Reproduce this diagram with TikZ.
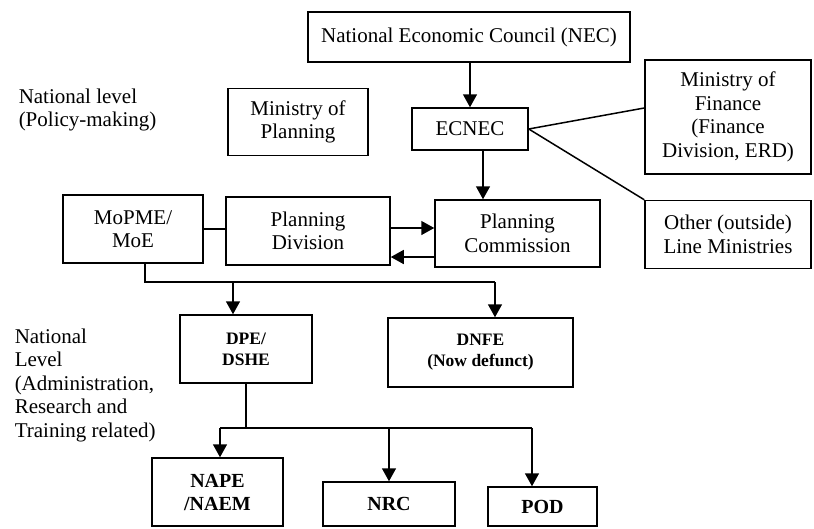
\documentclass[tikz,border=0pt]{standalone}
\usepackage{fontspec}
\setmainfont{Liberation Serif}
\usetikzlibrary{arrows.meta}
\usetikzlibrary{positioning}

\begin{document}
\begin{tikzpicture}[x=1pt,y=-1pt,line width=1.5pt,
  box/.style={draw,align=center,inner sep=2pt,font=\fontsize{21}{23.5}\selectfont},
  boldbox/.style={box,font=\fontsize{20}{23}\selectfont\bfseries},
  smallbox/.style={box,font=\fontsize{17.5}{21}\selectfont\bfseries},
  levelnote/.style={align=left,anchor=north west,inner sep=0pt,font=\fontsize{21}{23.5}\selectfont},
  >={Triangle[width=14pt,length=13pt]}]
  \useasboundingbox (0,0) rectangle (814,528);
  \node[box,minimum width=322pt,minimum height=50pt](nec) at (469,37) {National Economic Council (NEC)};
  \node[box,minimum width=140pt,minimum height=67pt](minplan) at (298,122) {Ministry of\\Planning};
  \node[box,minimum width=116pt,minimum height=42pt](ecnec) at (470,129) {ECNEC};
  \node[box,minimum width=166pt,minimum height=114pt](minfin) at (728,117) {Ministry of\\Finance\\(Finance\\Division, ERD)};
  \node[box,minimum width=166pt,minimum height=68pt,below=25pt of minfin](other) {Other (outside)\\Line Ministries};
  \node[box,minimum width=165pt,minimum height=67pt](comm) at (517.5,233.5) {Planning\\Commission};
  \node[box,minimum width=140pt,minimum height=68pt](mopme) at (133,229) {MoPME/\\MoE};
  \node[box,minimum width=164pt,minimum height=68pt](pdiv) at (308,231) {Planning\\Division};
  \node[smallbox,minimum width=132pt,minimum height=68pt](dpe) at (246,349) {DPE/\\DSHE};
  \node[smallbox,minimum width=185pt,minimum height=69pt](dnfe) at (480.5,352.5) {DNFE\\(Now defunct)};
  \node[boldbox,minimum width=131pt,minimum height=68pt](nape) at (217.5,492) {NAPE\\/NAEM};
  \node[boldbox,minimum width=132pt,minimum height=44pt](nrc) at (389,504) {NRC};
  \node[boldbox,minimum width=109pt,minimum height=39pt](pod) at (542.5,506.5) {POD};
  \node[levelnote](policy) at (18,88) {National level\\(Policy-making)};
  \node[levelnote](admin) at (14,328) {National\\Level\\(Administration,\\Research and\\Training related)};
  \coordinate (bus1) at (145,282);
  \coordinate (bus1r) at (495,282);
  \coordinate (bus2) at (220,428);
  \coordinate (bus2r) at (532,428);
  \draw[->] (ecnec.north |- nec.south) -- (ecnec.north);
  \draw[->] ([xshift=13pt]ecnec.south) -- ([xshift=13pt]ecnec.south |- comm.north);
  \draw (ecnec.east) -- ([yshift=9pt]minfin.west);
  \draw (ecnec.east) -- (other.north west);
  \draw (mopme.east) -- (mopme.east -| pdiv.west);
  \draw[->] ([yshift=3pt]pdiv.east) -- ([yshift=3pt]pdiv.east -| comm.west);
  \draw[->] ([yshift=-23.5pt]comm.west) -- ([yshift=-23.5pt]comm.west -| pdiv.east);
  \draw ([xshift=12pt]mopme.south) -- (bus1) -- (bus1r);
  \draw[->] (bus1r) -- (bus1r |- dnfe.north);
  \draw[->] ([xshift=-13pt]dpe.north |- bus1) -- ([xshift=-13pt]dpe.north);
  \draw (dpe.south) -- (dpe.south |- bus2);
  \draw (bus2) -- (bus2r);
  \draw[->] (bus2) -- (bus2 |- nape.north);
  \draw[->] (nrc.north |- bus2) -- (nrc.north);
  \draw[->] (bus2r) -- (bus2r |- pod.north);
\end{tikzpicture}
\end{document}
